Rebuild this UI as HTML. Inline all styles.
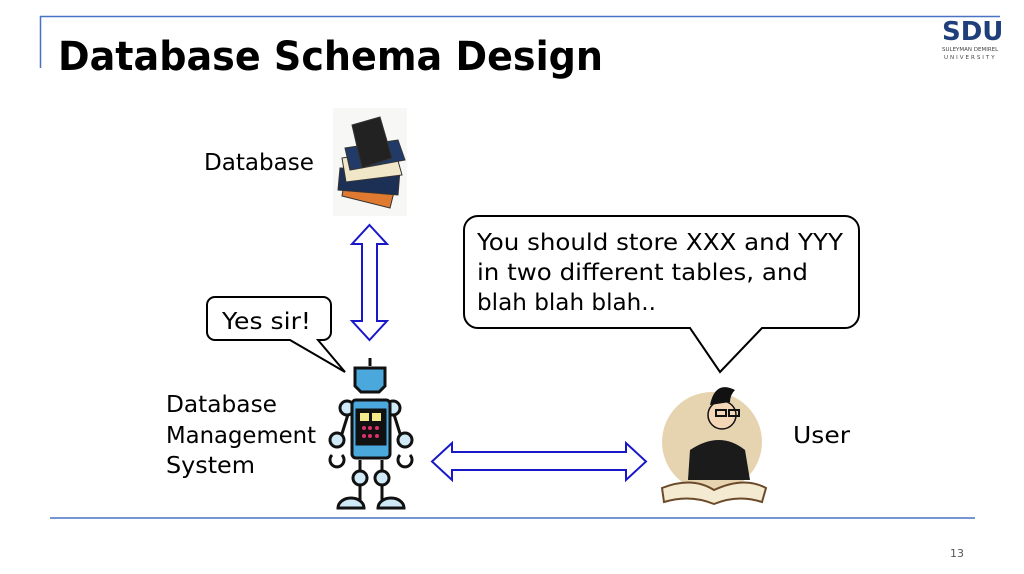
<!DOCTYPE html>
<html><head><meta charset="utf-8"><style>
html,body{margin:0;padding:0;background:#fff;width:1024px;height:574px;overflow:hidden}
svg{display:block}
text{font-family:"Comic Sans MS","DejaVu Sans","Liberation Sans",sans-serif}
</style></head><body>
<svg width="1024" height="574" viewBox="0 0 1024 574" xmlns="http://www.w3.org/2000/svg">
<line x1="40" y1="16.5" x2="1000" y2="16.5" stroke="#4a72c4" stroke-width="1.5"/>
<line x1="40.5" y1="16" x2="40.5" y2="68" stroke="#4a72c4" stroke-width="1.5"/>
<line x1="50" y1="518" x2="975" y2="518" stroke="#4a72c4" stroke-width="1.5"/>
<text x="58" y="70" font-size="40" font-weight="bold" fill="#000" textLength="545" lengthAdjust="spacingAndGlyphs">Database Schema Design</text>
<text x="942" y="40" font-size="26" font-weight="bold" fill="#1f3f7a" font-family="Liberation Sans">SDU</text>
<text x="942" y="51" font-size="5.5" fill="#444" font-family="Liberation Serif">SULEYMAN DEMIREL</text>
<text x="944" y="59" font-size="5.5" fill="#444" font-family="Liberation Serif" letter-spacing="2">UNIVERSITY</text>
<text x="950" y="557" font-size="11" fill="#555" font-family="Liberation Sans">13</text>

<text x="204" y="170" font-size="23" textLength="110" lengthAdjust="spacingAndGlyphs">Database</text>
<rect x="333" y="108" width="74" height="108" fill="#f7f7f5"/>
<g stroke="#333" stroke-width="1">
<polygon points="345,178 395,188 390,208 342,196" fill="#e07a30"/>
<polygon points="340,168 400,170 398,195 338,190" fill="#1c2f55"/>
<polygon points="342,158 395,150 402,175 346,182" fill="#f0e6c8"/>
<polygon points="345,148 398,140 405,160 350,170" fill="#213a68"/>
<polygon points="352,125 380,117 392,158 362,168" fill="#222"/>
</g>
<polygon points="369.5,225 387,244 377,244 377,321 387,321 369.5,340 352,321 362,321 362,244 352,244" fill="#fff" stroke="#1818c8" stroke-width="2"/>
<polygon points="432,461.5 452,443 452,452 626,452 626,443 646,461.5 626,480 626,470 452,470 452,480" fill="#fff" stroke="#1818c8" stroke-width="2"/>
<path d="M215,297 H323 a8,8 0 0 1 8,8 V332 a8,8 0 0 1 -8,8 H318 L345,372 L290,340 H215 a8,8 0 0 1 -8,-8 V305 a8,8 0 0 1 8,-8 Z" fill="#fff" stroke="#000" stroke-width="2"/>
<text x="222" y="329" font-size="23" textLength="89" lengthAdjust="spacingAndGlyphs">Yes sir!</text>
<path d="M478,216 H845 a14,14 0 0 1 14,14 V314 a14,14 0 0 1 -14,14 H762 L720,372 L690,328 H478 a14,14 0 0 1 -14,-14 V230 a14,14 0 0 1 14,-14 Z" fill="#fff" stroke="#000" stroke-width="2"/>
<text x="477" y="250" font-size="23" textLength="366" lengthAdjust="spacingAndGlyphs">You should store XXX and YYY</text>
<text x="477" y="280" font-size="23" textLength="331" lengthAdjust="spacingAndGlyphs">in two different tables, and</text>
<text x="477" y="310" font-size="23" textLength="179" lengthAdjust="spacingAndGlyphs">blah blah blah..</text>
<text x="166" y="412" font-size="23" textLength="111" lengthAdjust="spacingAndGlyphs">Database</text>
<text x="166" y="443" font-size="23" textLength="150" lengthAdjust="spacingAndGlyphs">Management</text>
<text x="166" y="473" font-size="23" textLength="89" lengthAdjust="spacingAndGlyphs">System</text>
<text x="793" y="443" font-size="23" textLength="57" lengthAdjust="spacingAndGlyphs">User</text>
<g stroke="#111" stroke-width="3" fill="#cfe9f7">
<line x1="370" y1="358" x2="370" y2="366"/>
<line x1="350" y1="408" x2="340" y2="440"/><line x1="392" y1="408" x2="402" y2="440"/>
<line x1="360" y1="460" x2="360" y2="500"/><line x1="382" y1="460" x2="382" y2="500"/>
<path d="M355,368 h30 v18 l-6,6 h-18 l-6,-6 z" fill="#4aa8dc"/>
<circle cx="347" cy="408" r="7"/><circle cx="393" cy="408" r="7"/>
<circle cx="337" cy="440" r="7"/><circle cx="405" cy="440" r="7"/>
<path d="M332,455 a7,7 0 1 0 10,0" fill="none"/><path d="M400,455 a7,7 0 1 0 10,0" fill="none"/>
<circle cx="360" cy="478" r="7"/><circle cx="382" cy="478" r="7"/>
<rect x="352" y="400" width="38" height="58" rx="4" fill="#4aa8dc"/>
<rect x="357" y="410" width="28" height="34" fill="#111"/>
<path d="M338,508 a13,10 0 0 1 26,0 z"/><path d="M378,508 a13,10 0 0 1 26,0 z"/>
</g>
<rect x="360" y="413" width="9" height="8" fill="#f3e98a"/><rect x="372" y="413" width="9" height="8" fill="#f3e98a"/>
<g fill="#e0306a"><circle cx="364" cy="428" r="2"/><circle cx="370" cy="428" r="2"/><circle cx="377" cy="428" r="2"/><circle cx="364" cy="436" r="2"/><circle cx="370" cy="436" r="2"/><circle cx="377" cy="436" r="2"/></g>
<circle cx="712" cy="442" r="50" fill="#e6d3b0"/>
<path d="M690,450 q30,-20 55,0 l5,30 h-62 z" fill="#1b1b1b"/>
<circle cx="722" cy="415" r="14" fill="#f3d7b6" stroke="#111" stroke-width="1.5"/>
<path d="M710,405 q5,-25 25,-15 q-5,5 -5,12 z" fill="#111"/>
<rect x="716" y="410" width="10" height="6" fill="none" stroke="#111" stroke-width="2"/>
<rect x="729" y="410" width="10" height="6" fill="none" stroke="#111" stroke-width="2"/>
<path d="M662,488 q30,-12 52,2 q30,-14 52,-2 l-4,14 q-24,-8 -48,2 q-24,-10 -50,-2 z" fill="#f4ead2" stroke="#6b4a2a" stroke-width="2"/>
</svg>
</body></html>
